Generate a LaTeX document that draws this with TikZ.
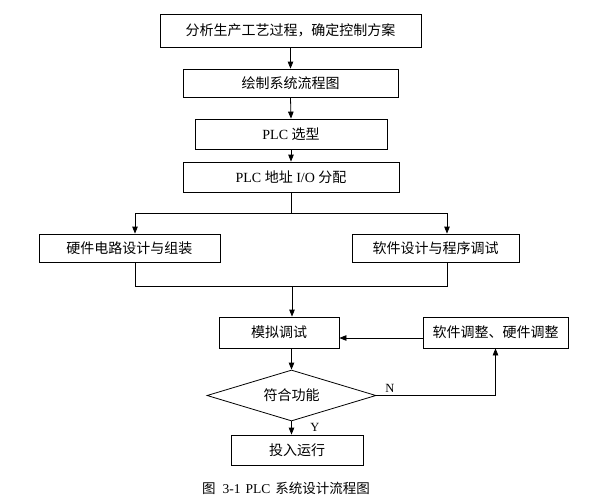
\documentclass[tikz,border=0pt]{standalone}
\usepackage{fontspec}
\setmainfont{Liberation Serif}
\newfontfamily\cjk{Noto Sans CJK SC}
\newcommand\zhtxt[1]{{\cjk #1}}
\usetikzlibrary{arrows.meta,shapes.geometric}
\begin{document}
\begin{tikzpicture}[x=1pt,y=-1pt,
  every node/.style={font=\fontsize{14}{16}\selectfont},
  box/.style={draw,line width=0.8pt,rectangle,inner sep=0pt},
  dia/.style={draw,line width=0.8pt,diamond,inner sep=0pt},
  arr/.style={line width=0.8pt,-{Triangle[length=7pt,width=5.5pt]}},
  ln/.style={line width=0.8pt},
  lbl/.style={font=\fontsize{12.5}{14}\selectfont,inner sep=0pt}]
\fill[white] (0,0) rectangle (598,499);
\useasboundingbox (0,0) rectangle (598,499);

\node[box,minimum width=261pt,minimum height=33pt] (b1) at (290.5,30.5) {\zhtxt{分析生产工艺过程，确定控制方案}};
\node[box,minimum width=215pt,minimum height=28pt] (b2) at (290.5,83) {\zhtxt{绘制系统流程图}};
\node[box,minimum width=192pt,minimum height=30pt] (b3) at (291,134) {PLC \zhtxt{选型}};
\node[box,minimum width=216pt,minimum height=30pt] (b4) at (291,177) {PLC \zhtxt{地址} I/O \zhtxt{分配}};
\node[box,minimum width=181pt,minimum height=28pt] (b5) at (129.5,248) {\zhtxt{硬件电路设计与组装}};
\node[box,minimum width=167pt,minimum height=28pt] (b6) at (435.5,248) {\zhtxt{软件设计与程序调试}};
\node[box,minimum width=120pt,minimum height=31pt] (b7) at (279,332.5) {\zhtxt{模拟调试}};
\node[box,minimum width=145pt,minimum height=31pt] (b8) at (495.5,332.5) {\zhtxt{软件调整、硬件调整}};
\node[dia,minimum width=169pt,minimum height=51pt,shape aspect=3.3] (d) at (291.5,395.5) {\zhtxt{符合功能}};
\node[box,minimum width=132pt,minimum height=30pt] (b9) at (297,450) {\zhtxt{投入运行}};
\node[font=\fontsize{13.5}{15}\selectfont,anchor=west,inner sep=0pt] (cap) at (202,488) {{\cjk\fontsize{13.5}{15}\selectfont 图}\hspace{7pt}3-1\hspace{5pt}PLC\hspace{5pt}{\cjk\fontsize{13.5}{15}\selectfont 系统设计流程图}};

\coordinate (bl) at (135,213);
\coordinate (br) at (447,213);
\coordinate (ml) at (135,286);
\coordinate (mr) at (447,286);
\coordinate (mm) at (292,286);

\draw[arr] (b1.south) -- (b2.north);
\draw[arr] (b2.south) -- (b3.north);
\draw[arr] (b3.south) -- (b4.north);
\draw[ln] (b4.south) -- (b4.south |- bl);
\draw[ln] (bl) -- (br);
\draw[arr] (bl) -- (bl |- b5.north);
\draw[arr] (br) -- (br |- b6.north);
\draw[ln] (ml |- b5.south) -- (ml) -- (mr) -- (mr |- b6.south);
\draw[arr] (mm) -- (mm |- b7.north);
\draw[arr] (d.north |- b7.south) -- (d.north);
\draw[arr] (d.south) -- (d.south |- b9.north);
\draw[arr] (d.east) -| (b8.south);
\draw[arr] ([yshift=-5.5pt]b8.west) -- ([yshift=-5.5pt]b7.east);

\node[lbl] (n) at (390,388) {N};
\node[lbl] (y) at (315,427) {Y};
\end{tikzpicture}
\end{document}
